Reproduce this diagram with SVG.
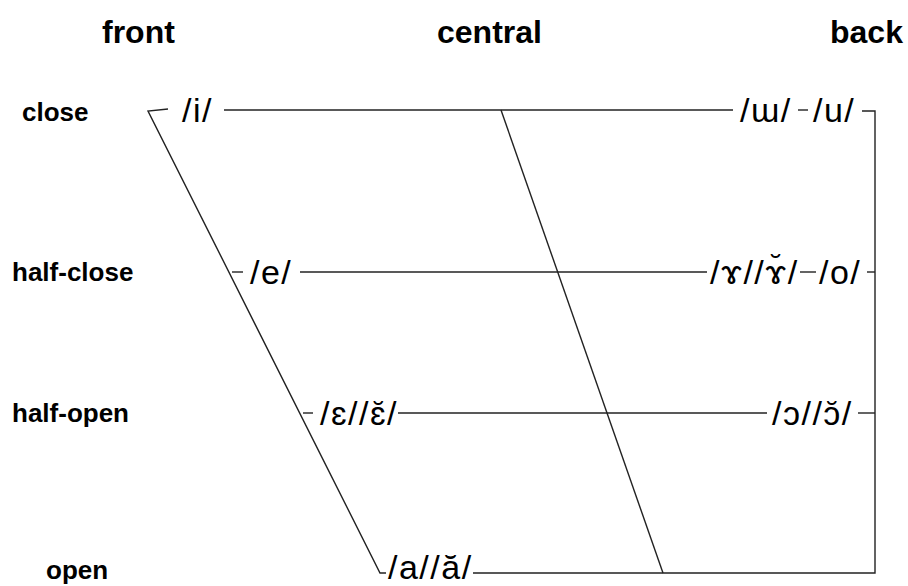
<svg xmlns="http://www.w3.org/2000/svg" width="908" height="586" viewBox="0 0 908 586">
<style>
.hdr{font-family:"Liberation Sans",Arial,sans-serif;font-weight:bold;font-size:32px;fill:#000}
.row{font-family:"Liberation Sans",Arial,sans-serif;font-weight:bold;font-size:26px;fill:#000}
.ipa{font-family:"Liberation Sans","DejaVu Sans",Arial,sans-serif;font-size:34px;letter-spacing:1.5px;fill:#000}
.ln{stroke:#222;stroke-width:1.4;fill:none}
</style>
<rect width="908" height="586" fill="#fff"/>
<g id="headers">
<text class="hdr" x="102" y="43">front</text>
<text class="hdr" x="437" y="43">central</text>
<text class="hdr" x="830" y="43">back</text>
</g>
<g id="row-labels">
<text class="row" x="22" y="121">close</text>
<text class="row" x="12" y="281">half-close</text>
<text class="row" x="12" y="422">half-open</text>
<text class="row" x="46" y="579">open</text>
</g>
<g id="connectors">
<path class="ln" d="M168,109 L148,111 L380,573 L386,573"/>
<path class="ln" d="M224,110 H733"/>
<path class="ln" d="M798,110 H808"/>
<path class="ln" d="M862,111 H875 V573 H473"/>
<path class="ln" d="M501,110 L663,573"/>
<path class="ln" d="M232,272 H243"/>
<path class="ln" d="M300,272 H707"/>
<path class="ln" d="M800,272 H816"/>
<path class="ln" d="M867,272 H875"/>
<path class="ln" d="M303,413 H313"/>
<path class="ln" d="M398,413 H767"/>
<path class="ln" d="M858,413 H875"/>
</g>
<g id="node-i"><text class="ipa" x="182" y="122">/i/</text></g>
<g id="node-uu"><text class="ipa" x="740" y="122">/ɯ/</text></g>
<g id="node-u"><text class="ipa" x="813" y="122">/u/</text></g>
<g id="node-e"><text class="ipa" x="250" y="284">/e/</text></g>
<g id="node-gamma"><text class="ipa" x="710" y="284">/ɤ//ɤ̆/</text></g>
<g id="node-o"><text class="ipa" x="819" y="284">/o/</text></g>
<g id="node-epsilon"><text class="ipa" x="320" y="425">/ɛ//ɛ̆/</text></g>
<g id="node-open-o"><text class="ipa" x="772" y="425">/ɔ//ɔ̆/</text></g>
<g id="node-a"><text class="ipa" x="388" y="579">/a//ă/</text></g>
</svg>
